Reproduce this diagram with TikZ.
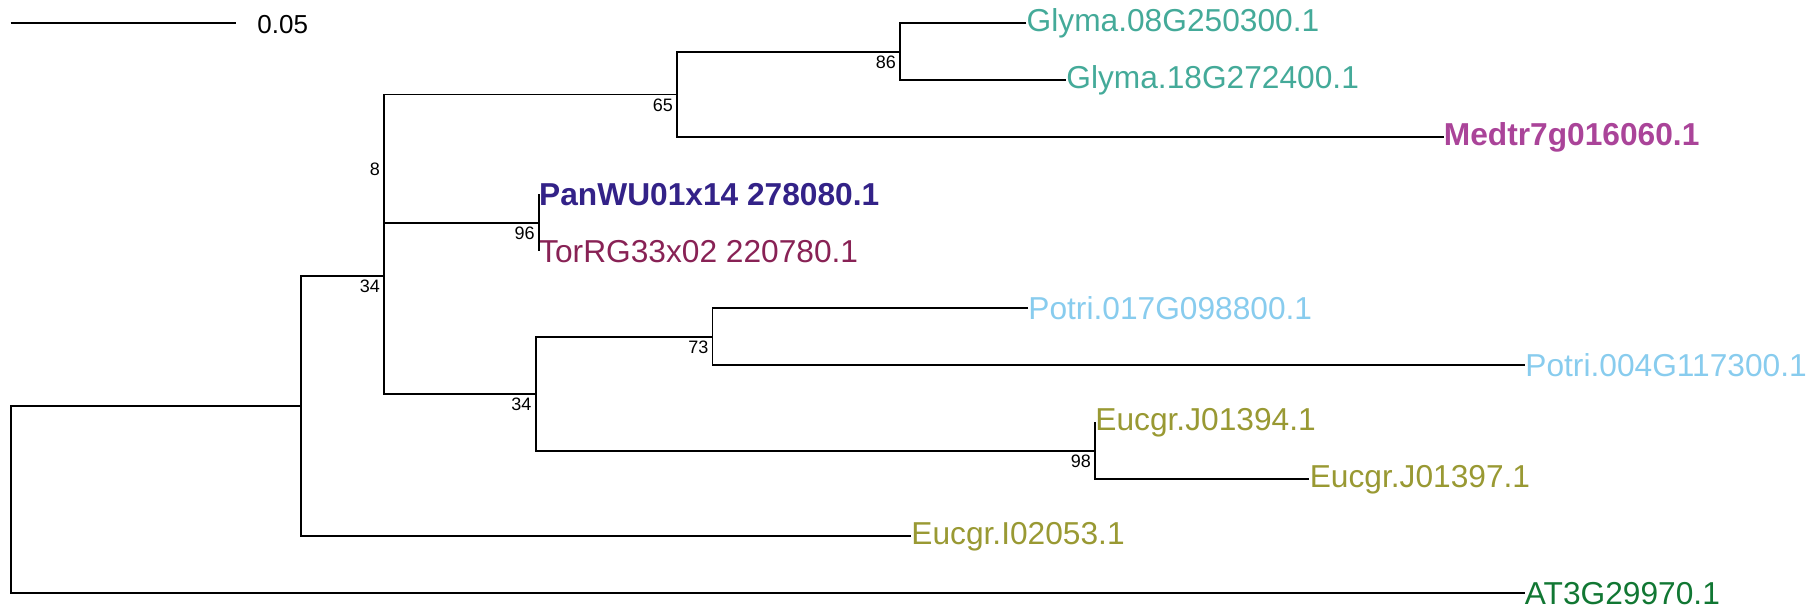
\documentclass[tikz,border=0pt]{standalone}
\usepackage{fontspec}
\setmainfont{Liberation Sans}
\definecolor{tteal}{HTML}{44AA99}
\definecolor{tindigo}{HTML}{332288}
\definecolor{twine}{HTML}{882255}
\definecolor{tpurple}{HTML}{AA4499}
\definecolor{tcyan}{HTML}{88CCEE}
\definecolor{tolive}{HTML}{999933}
\definecolor{tgreen}{HTML}{117733}
\tikzset{
  edge/.style={draw=black, line width=0.9pt},
  tiplab/.style={anchor=west, inner sep=0pt, font=\fontsize{15.85}{18}\selectfont},
  boldlab/.style={tiplab, font=\fontsize{15.85}{18}\selectfont\bfseries},
  boot/.style={anchor=east, inner sep=0pt, font=\fontsize{9}{10}\selectfont},
  scalelab/.style={anchor=west, inner sep=0pt, font=\fontsize{13}{15}\selectfont}
}
\begin{document}
\begin{tikzpicture}[x=0.5pt, y=-0.5pt]
\useasboundingbox (0,0) rectangle (1812,608);
% tip coordinates
\coordinate (c1) at (1026.3,23.3);
\coordinate (c2) at (1066,80.3);
\coordinate (c3) at (1443.5,137.3);
\coordinate (c4) at (538.8,194.3);
\coordinate (c5) at (538.8,251.3);
\coordinate (c6) at (1028,308.3);
\coordinate (c7) at (1525,365.3);
\coordinate (c8) at (1095,422.3);
\coordinate (c9) at (1309.4,479.3);
\coordinate (c10) at (911,536.3);
\coordinate (c11) at (1524.5,593.3);
% internal nodes
\coordinate (n86) at (900,51.8);
\coordinate (n65) at (677,94.55);
\coordinate (n96) at (538.8,222.8);
\coordinate (n8) at (384,158.7);
\coordinate (n73) at (712.5,336.8);
\coordinate (n98) at (1095,450.8);
\coordinate (n34b) at (535.7,393.8);
\coordinate (n34) at (384,276.2);
\coordinate (nX) at (301.3,406.3);
\coordinate (root) at (10.7,499.8);
% tip labels
\node[tiplab, text=tteal] (l1) at (c1) {Glyma.08G250300.1};
\node[tiplab, text=tteal] (l2) at (c2) {Glyma.18G272400.1};
\node[boldlab, text=tpurple] (l3) at (c3) {Medtr7g016060.1};
\node[boldlab, text=tindigo] (l4) at (c4) {PanWU01x14 278080.1};
\node[tiplab, text=twine] (l5) at (c5) {TorRG33x02 220780.1};
\node[tiplab, text=tcyan] (l6) at (c6) {Potri.017G098800.1};
\node[tiplab, text=tcyan] (l7) at (c7) {Potri.004G117300.1};
\node[tiplab, text=tolive] (l8) at (c8) {Eucgr.J01394.1};
\node[tiplab, text=tolive] (l9) at (c9) {Eucgr.J01397.1};
\node[tiplab, text=tolive] (l10) at (c10) {Eucgr.I02053.1};
\node[tiplab, text=tgreen] (l11) at (c11) {AT3G29970.1};
% branches
\draw[edge] (c1) -| (n86) |- (c2);
\draw[edge] (n86) -| (n65) |- (c3);
\draw[edge] (c4) -- (n96) -- (c5);
\draw[edge] (n65) -| (n8) |- (n96);
\draw[edge] (c6) -| (n73) |- (c7);
\draw[edge] (c8) -- (n98) |- (c9);
\draw[edge] (n73) -| (n34b) |- (n98);
\draw[edge] (n8) -| (n34) |- (n34b);
\draw[edge] (n34) -| (nX) |- (c10);
\draw[edge] (nX) -| (root) |- (c11);
% bootstrap labels
\node[boot] (b86) at ([shift={(-3.8,10.4)}]n86) {86};
\node[boot] (b65) at ([shift={(-3.8,10.4)}]n65) {65};
\node[boot] (b96) at ([shift={(-3.8,10.4)}]n96) {96};
\node[boot] (b8) at ([shift={(-3.8,10.4)}]n8) {8};
\node[boot] (b73) at ([shift={(-3.8,10.4)}]n73) {73};
\node[boot] (b98) at ([shift={(-3.8,10.4)}]n98) {98};
\node[boot] (b34b) at ([shift={(-3.8,10.4)}]n34b) {34};
\node[boot] (b34) at ([shift={(-3.8,10.4)}]n34) {34};
% scale bar
\coordinate (sb1) at (10.7,23.3);
\coordinate (sb2) at (235.7,23.3);
\draw[edge] (sb1) -- (sb2);
\node[scalelab] (sbl) at (257,24.7) {0.05};
\end{tikzpicture}
\end{document}
